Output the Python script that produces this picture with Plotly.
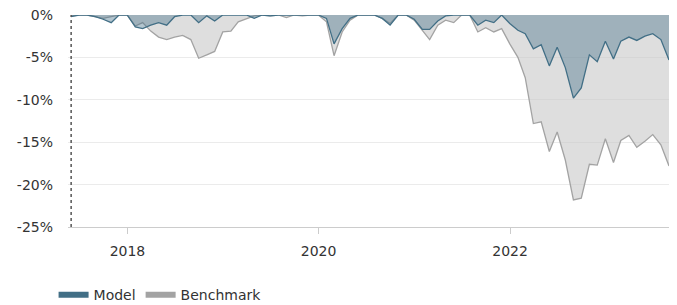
import pandas as pd
import plotly.graph_objects as go

dates = pd.date_range("2017-05-31", "2023-08-31", freq="ME")

model = [-0.2, 0, 0, -0.2, -0.5, -0.9, 0, 0, -1.4, -1.6,
         -1.2, -0.9, -1.2, -0.2, 0, 0, -0.9, -0.1, -0.7, 0,
         0, 0, 0, -0.4, 0, -0.1, 0, 0, 0, 0,
         0, 0, -0.4, -3.4, -1.6, -0.4, 0, 0, 0, -0.4,
         -1.2, 0, 0, -0.5, -1.7, -1.7, -0.7, -0.1, 0, 0,
         0, -1.2, -0.6, -0.9, 0, -1.0, -1.8, -2.2, -4.0, -3.5,
         -6.0, -3.8, -6.2, -9.8, -8.6, -4.7, -5.5, -3.1, -5.2, -3.1,
         -2.6, -3.0, -2.5, -2.2, -2.9, -5.3]

benchmark = [-0.1, 0, 0, -0.2, -0.4, -0.2, 0, 0, -1.3, -0.9,
             -1.9, -2.6, -2.9, -2.6, -2.4, -2.9, -5.1, -4.7, -4.3, -2.0,
             -1.9, -0.8, -0.4, -0.1, 0, -0.1, 0, -0.3, 0, -0.1,
             0, 0, -0.8, -4.8, -2.0, -0.6, 0, 0, 0, -0.4,
             -1.0, 0, 0, -0.6, -1.8, -2.9, -1.2, -0.6, -0.9, 0,
             0, -2.0, -1.5, -2.0, -1.6, -3.4, -5.0, -7.4, -12.8, -12.6,
             -16.1, -13.8, -17.1, -21.8, -21.6, -17.6, -17.7, -14.6, -17.4, -14.8,
             -14.2, -15.6, -14.9, -14.1, -15.3, -17.8]

y_ticks = [0, -5, -10, -15, -20, -25]
y_labels = ["0%", "-5%", "-10%", "-15%", "-20%", "-25%"]

MODEL_LINE = "#426f86"
BENCH_LINE = "#a3a3a3"

fig = go.Figure()
fig.add_trace(go.Scatter(
    x=dates, y=benchmark, mode="lines", name="Benchmark",
    line=dict(color=BENCH_LINE, width=1.3),
    fill="tozeroy", fillcolor="rgba(200,200,200,0.6)", showlegend=False,
))
fig.add_trace(go.Scatter(
    x=dates, y=model, mode="lines", name="Model",
    line=dict(color=MODEL_LINE, width=1.3),
    fill="tozeroy", fillcolor="rgba(66,111,134,0.4)", showlegend=False,
))
# legend entries
fig.add_trace(go.Scatter(x=[None], y=[None], mode="lines", name="Model",
                         line=dict(color=MODEL_LINE, width=6)))
fig.add_trace(go.Scatter(x=[None], y=[None], mode="lines", name="Benchmark",
                         line=dict(color=BENCH_LINE, width=6)))

fig.add_shape(type="line", xref="x", yref="paper",
              x0=dates[0], x1=dates[0], y0=0, y1=1,
              line=dict(color="#555555", width=1.5, dash="dot"))

# the page body adds an 8px margin, so the figure is sized to fit the window
fig.update_layout(
    width=661, height=297,
    margin=dict(l=60, r=0, t=7, b=78, autoexpand=False),
    paper_bgcolor="white", plot_bgcolor="white",
    font=dict(family="DejaVu Sans, Verdana, sans-serif", size=14, color="#333333"),
    showlegend=True,
    legend=dict(orientation="h", x=-0.024, xanchor="left", y=-0.321, yanchor="middle",
                font=dict(size=14, color="#333333"), itemwidth=30,
                traceorder="normal"),
    xaxis=dict(
        range=["2017-05-19", "2023-08-31"],
        tickformat="%Y", dtick="M24", tick0="2018-01-01",
        showgrid=False, showline=True, linecolor="#cccccc", linewidth=1,
        ticks="outside", tickcolor="#cccccc", ticklen=6, ticklabelstandoff=5,
        zeroline=False, ticklabeloverflow="allow",
    ),
    yaxis=dict(
        range=[-25, 0], tickvals=y_ticks, ticktext=y_labels,
        showgrid=True, gridcolor="#ebebeb", gridwidth=1,
        zeroline=False, showline=False, ticks="", ticklabelstandoff=14,
        ticklabeloverflow="allow",
    ),
)

fig.write_html("out.html")
